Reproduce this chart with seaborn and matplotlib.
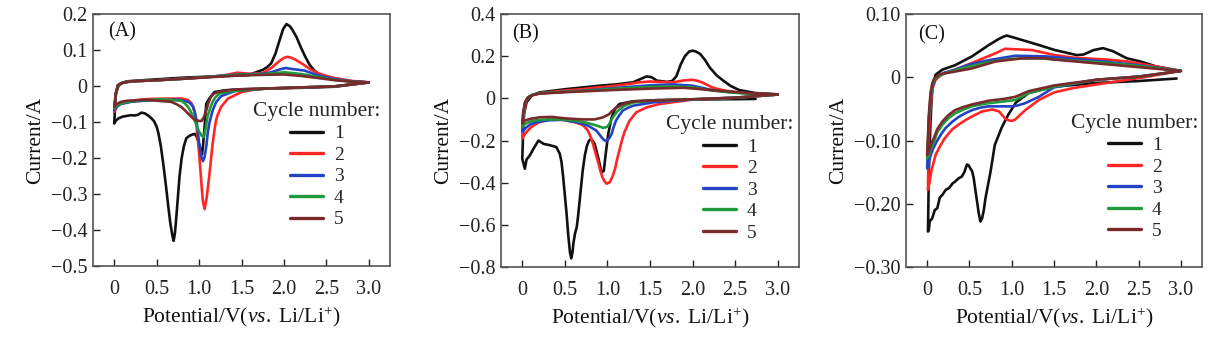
import matplotlib
matplotlib.use("Agg")
import matplotlib.pyplot as plt
import seaborn as sns
import pandas as pd

# ---------------- data (potential V, current A), cathodic scan then anodic scan ----------------
# Panel A
A1_V = [3.0, 2.6, 2.2, 1.8, 1.5, 1.3, 1.18, 1.12, 1.085, 1.065, 1.045, 1.034, 1.01, 0.99, 0.97, 0.95, 0.92, 0.89,
        0.85, 0.82, 0.795, 0.77, 0.75, 0.73, 0.715, 0.70, 0.685, 0.66, 0.635, 0.61, 0.58, 0.55, 0.52, 0.50, 0.47,
        0.44, 0.40, 0.36, 0.32, 0.28, 0.24, 0.20, 0.15, 0.10, 0.05, 0.02, 0.0,
        0.01, 0.02, 0.04, 0.08, 0.15, 0.4, 0.8, 1.2, 1.58, 1.75, 1.8, 1.85, 1.9, 1.95, 1.99, 2.03, 2.07, 2.1, 2.15,
        2.2, 2.25, 2.3, 2.35, 2.41, 2.5, 2.6, 2.8, 3.0]
A1_I = [0.01, -0.002, -0.005, -0.007, -0.009, -0.012, -0.017, -0.035, -0.049, -0.113, -0.17, -0.19, -0.17, -0.152,
        -0.14, -0.133, -0.135, -0.138, -0.145, -0.168, -0.2, -0.25, -0.31, -0.37, -0.41, -0.43, -0.415, -0.379, -0.33,
        -0.278, -0.22, -0.168, -0.13, -0.113, -0.098, -0.09, -0.082, -0.076, -0.074, -0.08, -0.082, -0.081, -0.083,
        -0.085, -0.09, -0.096, -0.104,
        -0.06, -0.02, 0.002, 0.008, 0.013, 0.017, 0.023, 0.027, 0.03, 0.045, 0.052, 0.063, 0.09, 0.128, 0.158, 0.172,
        0.166, 0.156, 0.135, 0.107, 0.082, 0.06, 0.045, 0.033, 0.025, 0.019, 0.013, 0.01]
A2_V = [3.0, 2.6, 2.2, 1.8, 1.65, 1.5, 1.34, 1.26, 1.22, 1.2, 1.18, 1.16, 1.14, 1.12, 1.09, 1.065, 1.045, 1.03,
        1.01, 0.99, 0.97, 0.95, 0.93, 0.91, 0.87, 0.8, 0.6, 0.4, 0.25, 0.15, 0.08, 0.03, 0.0,
        0.02, 0.05, 0.1, 0.2, 0.5, 0.8, 1.1, 1.3, 1.45, 1.6, 1.75, 1.85, 1.9, 1.95, 2.0, 2.04, 2.08, 2.12, 2.18,
        2.24, 2.32, 2.41, 2.5, 2.6, 2.8, 3.0]
A2_I = [0.01, -0.001, -0.004, -0.007, -0.01, -0.017, -0.035, -0.058, -0.08, -0.095, -0.125, -0.16, -0.205, -0.25,
        -0.31, -0.342, -0.32, -0.278, -0.215, -0.159, -0.11, -0.076, -0.058, -0.048, -0.039, -0.035, -0.035, -0.036,
        -0.04, -0.044, -0.049, -0.058, -0.072,
        -0.02, 0.002, 0.009, 0.013, 0.016, 0.02, 0.025, 0.03, 0.037, 0.034, 0.036, 0.05, 0.06, 0.07, 0.078, 0.081,
        0.079, 0.075, 0.067, 0.058, 0.045, 0.035, 0.028, 0.022, 0.014, 0.01]
A3_V = [3.0, 2.6, 2.2, 1.8, 1.42, 1.26, 1.2, 1.16, 1.12, 1.1, 1.085, 1.065, 1.045, 1.025, 1.0, 0.985, 0.97, 0.95,
        0.93, 0.9, 0.87, 0.75, 0.4, 0.2, 0.08, 0.03, 0.0,
        0.02, 0.05, 0.1, 0.2, 0.5, 0.8, 1.1, 1.45, 1.75, 1.85, 1.95, 2.02, 2.1, 2.24, 2.41, 2.6, 2.8, 3.0]
A3_I = [0.01, -0.001, -0.004, -0.007, -0.014, -0.028, -0.045, -0.068, -0.104, -0.135, -0.168, -0.197, -0.209,
        -0.195, -0.159, -0.125, -0.095, -0.073, -0.058, -0.049, -0.044, -0.038, -0.04, -0.044, -0.05, -0.057, -0.067,
        -0.02, 0.002, 0.009, 0.013, 0.016, 0.02, 0.025, 0.032, 0.034, 0.038, 0.046, 0.05, 0.047, 0.043, 0.029,
        0.019, 0.013, 0.01]
A4_V = [3.0, 2.6, 2.2, 1.8, 1.4, 1.24, 1.19, 1.16, 1.13, 1.1, 1.08, 1.057, 1.03, 1.01, 0.99, 0.96, 0.93, 0.9, 0.87,
        0.83, 0.79, 0.55, 0.3, 0.15, 0.08, 0.03, 0.0,
        0.02, 0.05, 0.1, 0.2, 0.5, 0.8, 1.1, 1.45, 1.75, 1.9, 2.0, 2.1, 2.24, 2.41, 2.6, 2.8, 3.0]
A4_I = [0.01, -0.001, -0.004, -0.007, -0.014, -0.021, -0.032, -0.044, -0.062, -0.085, -0.115, -0.142, -0.138,
        -0.13, -0.122, -0.103, -0.085, -0.07, -0.058, -0.048, -0.041, -0.037, -0.04, -0.044, -0.049, -0.055, -0.062,
        -0.02, 0.002, 0.009, 0.013, 0.016, 0.02, 0.025, 0.031, 0.033, 0.036, 0.038, 0.036, 0.032, 0.025, 0.017,
        0.012, 0.01]
A5_V = [3.0, 2.6, 2.2, 1.8, 1.4, 1.22, 1.17, 1.14, 1.11, 1.085, 1.06, 1.03, 1.0, 0.95, 0.91, 0.87, 0.83, 0.79,
        0.73, 0.67, 0.35, 0.15, 0.08, 0.03, 0.0,
        0.02, 0.05, 0.1, 0.2, 0.5, 0.8, 1.1, 1.45, 1.75, 2.0, 2.2, 2.41, 2.6, 2.8, 3.0]
A5_I = [0.01, -0.001, -0.004, -0.007, -0.01, -0.017, -0.022, -0.03, -0.047, -0.067, -0.085, -0.097, -0.097, -0.094,
        -0.086, -0.076, -0.067, -0.058, -0.05, -0.044, -0.038, -0.041, -0.044, -0.05, -0.058,
        -0.02, 0.002, 0.009, 0.013, 0.016, 0.02, 0.024, 0.029, 0.031, 0.032, 0.028, 0.022, 0.016, 0.012, 0.01]

# Panel B
B1_V = [2.74, 2.2, 1.61, 1.3, 1.14, 1.09, 1.05, 1.01, 0.98, 0.957, 0.93, 0.89, 0.85, 0.81, 0.785, 0.76, 0.735, 0.71,
        0.69, 0.67, 0.655, 0.64, 0.62, 0.60, 0.59, 0.575, 0.56, 0.54, 0.52, 0.50, 0.48, 0.46, 0.44, 0.40, 0.32, 0.25,
        0.19, 0.13, 0.09, 0.05, 0.03, 0.0,
        0.01, 0.02, 0.05, 0.11, 0.2, 0.52, 0.91, 1.1, 1.3, 1.46, 1.52, 1.58, 1.7, 1.76, 1.81, 1.86, 1.91, 1.96, 2.0,
        2.04, 2.09, 2.15, 2.2, 2.28, 2.36, 2.45, 2.55, 2.74, 2.97, 3.0]
B1_I = [-0.003, -0.005, -0.008, -0.014, -0.027, -0.05, -0.09, -0.168, -0.263, -0.345, -0.35, -0.279, -0.216,
        -0.192, -0.2, -0.224, -0.27, -0.342, -0.42, -0.5, -0.56, -0.61, -0.64, -0.688, -0.73, -0.759, -0.73, -0.65,
        -0.546, -0.46, -0.373, -0.3, -0.263, -0.231, -0.222, -0.216, -0.2, -0.24, -0.27, -0.29, -0.334, -0.287,
        -0.16, -0.074, -0.019, 0.013, 0.028, 0.044, 0.06, 0.066, 0.076, 0.104, 0.1, 0.084, 0.078, 0.082, 0.105,
        0.16, 0.2, 0.222, 0.226, 0.222, 0.21, 0.18, 0.147, 0.11, 0.084, 0.058, 0.039, 0.025, 0.02, 0.018]
B2_V = [3.0, 2.5, 2.0, 1.61, 1.46, 1.34, 1.26, 1.2, 1.17, 1.14, 1.11, 1.09, 1.06, 1.03, 0.99, 0.96, 0.94, 0.915,
        0.89, 0.86, 0.83, 0.8, 0.77, 0.72, 0.68, 0.6, 0.52, 0.44, 0.36, 0.3, 0.25, 0.19, 0.13, 0.09, 0.05, 0.02, 0.0,
        0.01, 0.03, 0.05, 0.09, 0.13, 0.2, 0.32, 0.5, 0.71, 0.9, 1.1, 1.25, 1.38, 1.5, 1.6, 1.77, 1.88, 1.99, 2.05,
        2.11, 2.17, 2.23, 2.3, 2.39, 2.5, 2.63, 2.8, 3.0]
B2_I = [0.018, 0.003, -0.006, -0.027, -0.043, -0.066, -0.106, -0.16, -0.2, -0.247, -0.295, -0.334, -0.37, -0.397,
        -0.405, -0.39, -0.373, -0.34, -0.302, -0.26, -0.216, -0.18, -0.153, -0.13, -0.121, -0.112, -0.106, -0.1,
        -0.098, -0.1, -0.106, -0.115, -0.129, -0.142, -0.16, -0.176, -0.19,
        -0.12, -0.04, -0.003, 0.01, 0.017, 0.024, 0.03, 0.037, 0.044, 0.052, 0.06, 0.068, 0.076, 0.08, 0.078, 0.076,
        0.084, 0.088, 0.084, 0.076, 0.064, 0.052, 0.044, 0.036, 0.03, 0.025, 0.021, 0.018]
B3_V = [3.0, 2.5, 2.0, 1.54, 1.3, 1.24, 1.18, 1.14, 1.1, 1.07, 1.05, 1.02, 0.99, 0.96, 0.93, 0.87, 0.77, 0.64,
        0.48, 0.32, 0.17, 0.1, 0.05, 0.0,
        0.01, 0.03, 0.07, 0.12, 0.2, 0.45, 0.71, 1.1, 1.5, 1.77, 2.0, 2.23, 2.47, 2.7, 3.0]
B3_I = [0.018, 0.003, -0.005, -0.019, -0.035, -0.045, -0.058, -0.08, -0.106, -0.14, -0.168, -0.19, -0.203, -0.198,
        -0.184, -0.153, -0.129, -0.113, -0.102, -0.104, -0.113, -0.122, -0.137, -0.158,
        -0.09, -0.027, 0.005, 0.016, 0.024, 0.03, 0.036, 0.049, 0.062, 0.066, 0.06, 0.039, 0.028, 0.022, 0.018]
B4_V = [3.0, 2.5, 2.0, 1.5, 1.3, 1.2, 1.12, 1.08, 1.05, 1.02, 1.0, 0.95, 0.88, 0.75, 0.6, 0.45, 0.3, 0.15, 0.08,
        0.03, 0.0,
        0.01, 0.03, 0.07, 0.12, 0.2, 0.45, 0.71, 1.1, 1.5, 1.8, 2.0, 2.23, 2.47, 2.7, 3.0]
B4_I = [0.018, 0.003, -0.005, -0.012, -0.02, -0.035, -0.06, -0.08, -0.1, -0.122, -0.135, -0.14, -0.13, -0.115,
        -0.105, -0.1, -0.1, -0.105, -0.112, -0.122, -0.135,
        -0.08, -0.025, 0.005, 0.016, 0.024, 0.03, 0.035, 0.046, 0.054, 0.056, 0.052, 0.037, 0.027, 0.022, 0.018]
B5_V = [3.0, 2.5, 2.0, 1.6, 1.3, 1.2, 1.1, 1.05, 1.02, 0.95, 0.85, 0.7, 0.5, 0.35, 0.2, 0.1, 0.03, 0.0,
        0.01, 0.03, 0.07, 0.12, 0.2, 0.45, 0.71, 1.1, 1.5, 1.9, 2.2, 2.5, 2.7, 3.0]
B5_I = [0.018, 0.003, -0.004, -0.01, -0.015, -0.025, -0.045, -0.062, -0.075, -0.09, -0.1, -0.1, -0.095, -0.088,
        -0.09, -0.097, -0.105, -0.12,
        -0.07, -0.02, 0.005, 0.015, 0.022, 0.028, 0.033, 0.04, 0.046, 0.05, 0.04, 0.03, 0.024, 0.018]

# Panel C
C1_V = [2.95, 2.5, 2.0, 1.5, 1.2, 1.05, 0.96, 0.88, 0.80, 0.75, 0.72, 0.69, 0.67, 0.65, 0.63, 0.61, 0.59, 0.57,
        0.55, 0.53, 0.51, 0.49, 0.47, 0.44, 0.41, 0.37, 0.33, 0.30, 0.26, 0.22, 0.18, 0.15, 0.12, 0.09, 0.06, 0.03,
        0.02, 0.01,
        0.02, 0.04, 0.06, 0.10, 0.18, 0.33, 0.53, 0.73, 0.84, 0.90, 0.94, 1.12, 1.32, 1.51, 1.77, 1.85, 1.97, 2.08,
        2.2, 2.36, 2.52, 2.71, 3.0]
C1_I = [-0.002, -0.006, -0.009, -0.015, -0.025, -0.04, -0.059, -0.08, -0.107, -0.149, -0.17, -0.191, -0.21, -0.223,
        -0.228, -0.215, -0.196, -0.178, -0.159, -0.148, -0.144, -0.139, -0.138, -0.15, -0.157, -0.16, -0.165, -0.168,
        -0.175, -0.178, -0.186, -0.19, -0.207, -0.21, -0.223, -0.228, -0.241, -0.244,
        -0.15, -0.07, -0.017, 0.004, 0.012, 0.019, 0.033, 0.051, 0.06, 0.064, 0.066, 0.059, 0.051, 0.043, 0.035,
        0.036, 0.043, 0.046, 0.041, 0.03, 0.025, 0.017, 0.01]
C2_V = [3.0, 2.52, 2.12, 1.73, 1.5, 1.32, 1.16, 1.08, 1.04, 1.0, 0.96, 0.92, 0.85, 0.77, 0.65, 0.53, 0.45, 0.37,
        0.3, 0.26, 0.2, 0.14, 0.1, 0.08, 0.05, 0.03, 0.01,
        0.015, 0.02, 0.035, 0.05, 0.07, 0.10, 0.18, 0.37, 0.61, 0.81, 0.92, 1.24, 1.51, 1.73, 2.12, 2.36, 2.71, 3.0]
C2_I = [0.01, -0.001, -0.009, -0.017, -0.024, -0.036, -0.052, -0.062, -0.067, -0.069, -0.068, -0.065, -0.054,
        -0.051, -0.054, -0.062, -0.068, -0.075, -0.082, -0.088, -0.098, -0.112, -0.123, -0.133, -0.148, -0.165,
        -0.178,
        -0.13, -0.096, -0.055, -0.033, -0.015, -0.004, 0.005, 0.014, 0.027, 0.038, 0.045, 0.043, 0.035, 0.031, 0.028,
        0.025, 0.017, 0.01]
C3_V = [3.0, 2.5, 2.0, 1.5, 1.32, 1.16, 1.06, 1.0, 0.88, 0.73, 0.63, 0.53, 0.45, 0.37, 0.3, 0.22, 0.17, 0.12, 0.07,
        0.04, 0.02, 0.0,
        0.01, 0.02, 0.04, 0.06, 0.09, 0.12, 0.2, 0.33, 0.5, 0.73, 1.04, 1.4, 2.0, 2.5, 3.0]
C3_I = [0.01, 0.001, -0.004, -0.016, -0.031, -0.041, -0.045, -0.046, -0.046, -0.046, -0.048, -0.052, -0.057,
        -0.063, -0.07, -0.08, -0.089, -0.1, -0.113, -0.124, -0.133, -0.144,
        -0.11, -0.07, -0.035, -0.017, -0.005, 0.001, 0.007, 0.012, 0.02, 0.027, 0.034, 0.033, 0.026, 0.019, 0.01]
C4_V = [3.0, 2.5, 2.0, 1.5, 1.2, 1.04, 0.92, 0.73, 0.63, 0.53, 0.43, 0.33, 0.25, 0.18, 0.12, 0.08, 0.04, 0.02, 0.0,
        0.01, 0.02, 0.04, 0.06, 0.09, 0.12, 0.2, 0.33, 0.5, 0.73, 1.0, 1.3, 2.0, 2.5, 3.0]
C4_I = [0.01, 0.001, -0.004, -0.015, -0.025, -0.036, -0.038, -0.041, -0.043, -0.046, -0.051, -0.057, -0.065,
        -0.075, -0.087, -0.102, -0.114, -0.123, -0.128,
        -0.1, -0.065, -0.03, -0.012, -0.003, 0.0, 0.006, 0.011, 0.017, 0.024, 0.029, 0.03, 0.024, 0.018, 0.01]
C5_V = [3.0, 2.5, 2.0, 1.5, 1.2, 1.04, 0.92, 0.73, 0.63, 0.53, 0.43, 0.33, 0.25, 0.18, 0.12, 0.08, 0.04, 0.02, 0.0,
        0.01, 0.02, 0.04, 0.06, 0.08, 0.14, 0.2, 0.33, 0.53, 0.81, 1.12, 1.4, 1.5, 2.0, 2.5, 3.0]
C5_I = [0.01, 0.001, -0.004, -0.013, -0.022, -0.031, -0.034, -0.037, -0.04, -0.043, -0.047, -0.052, -0.06, -0.07,
        -0.082, -0.096, -0.108, -0.117, -0.123,
        -0.095, -0.06, -0.025, -0.01, -0.003, 0.004, 0.006, 0.009, 0.014, 0.025, 0.03, 0.03, 0.028, 0.022, 0.016,
        0.01]

CYCLES = ["1", "2", "3", "4", "5"]
COLORS = ["#111111", "#ff2626", "#2343c4", "#1e9a3c", "#7a2a2a"]
PANELS = ["(A)", "(B)", "(C)"]
CURVES = [
    [(A1_V, A1_I), (A2_V, A2_I), (A3_V, A3_I), (A4_V, A4_I), (A5_V, A5_I)],
    [(B1_V, B1_I), (B2_V, B2_I), (B3_V, B3_I), (B4_V, B4_I), (B5_V, B5_I)],
    [(C1_V, C1_I), (C2_V, C2_I), (C3_V, C3_I), (C4_V, C4_I), (C5_V, C5_I)],
]
X_TICKS = [0, 0.5, 1.0, 1.5, 2.0, 2.5, 3.0]
X_TICKLABELS = ["0", "0.5", "1.0", "1.5", "2.0", "2.5", "3.0"]
Y_TICKS = [
    [0.2, 0.1, 0, -0.1, -0.2, -0.3, -0.4, -0.5],
    [0.4, 0.2, 0, -0.2, -0.4, -0.6, -0.8],
    [0.10, 0, -0.10, -0.20, -0.30],
]
Y_TICKLABELS = [
    ["0.2", "0.1", "0", "\u22120.1", "\u22120.2", "\u22120.3", "\u22120.4", "\u22120.5"],
    ["0.4", "0.2", "0", "\u22120.2", "\u22120.4", "\u22120.6", "\u22120.8"],
    ["0.10", "0", "\u22120.10", "\u22120.20", "\u22120.30"],
]
X_LABEL = r"Potential/V($\mathit{vs.}$ Li/Li$^{+}$)"
Y_LABEL = "Current/A"
LEGEND_TITLE = "Cycle number:"

# ---------------- style ----------------
sns.set_theme(style="ticks")
plt.rcParams["font.family"] = ["Liberation Serif", "DejaVu Serif"]
plt.rcParams["mathtext.fontset"] = "custom"
plt.rcParams["mathtext.rm"] = "Liberation Serif"
plt.rcParams["mathtext.it"] = "Liberation Serif:italic"
plt.rcParams["axes.unicode_minus"] = True

fig = plt.figure(figsize=(12.13, 3.4), dpi=100)
W, H = 1213.0, 340.0
boxes = [(93, 14, 390, 266), (501, 14, 799, 267), (906, 14, 1202, 267)]
ylims = [(-0.5, 0.2), (-0.8, 0.4), (-0.30, 0.10)]
leg_centers = [(0.754, 0.40), (0.768, 0.35), (0.774, 0.356)]
letter_pos = [(0.05, 0.93), (0.037, 0.92), (0.04, 0.917)]

for p in range(3):
    l, t, r, b = boxes[p]
    ax = fig.add_axes([l / W, 1 - b / H, (r - l) / W, (b - t) / H])
    for k, (v, i) in enumerate(CURVES[p]):
        df = pd.DataFrame({"V": v, "I": i})
        sns.lineplot(data=df, x="V", y="I", sort=False, estimator=None, color=COLORS[k],
                     linewidth=1.9, ax=ax, label=CYCLES[k], solid_joinstyle="round")
    ax.set_xlim(-0.25, 3.25)
    ax.set_ylim(*ylims[p])
    ax.set_xticks(X_TICKS)
    ax.set_xticklabels(X_TICKLABELS)
    ax.set_yticks(Y_TICKS[p])
    ax.set_yticklabels(Y_TICKLABELS[p])
    ax.tick_params(direction="in", length=5, width=1.0, labelsize=14.5, colors="#222222")
    ax.tick_params(axis="x", pad=10)
    ax.tick_params(axis="y", pad=4)
    for s in ax.spines.values():
        s.set_visible(True)
        s.set_color("#555555")
        s.set_linewidth(1.2)
    ax.set_xlabel(X_LABEL, fontsize=15.5, labelpad=4, color="#111111")
    ax.set_ylabel(Y_LABEL, fontsize=15.5, labelpad=4, color="#111111")
    ax.text(letter_pos[p][0], letter_pos[p][1], PANELS[p], transform=ax.transAxes,
            fontsize=14.5, ha="left", va="center", color="#111111")
    leg = ax.legend(loc="center", bbox_to_anchor=leg_centers[p], frameon=False,
                    title=LEGEND_TITLE, fontsize=14, title_fontsize=15.5,
                    handlelength=1.7, handletextpad=0.55, labelspacing=0.2, borderpad=0)
    for ln in leg.get_lines():
        ln.set_linewidth(2.4)

fig.savefig("out.png", dpi=100)
